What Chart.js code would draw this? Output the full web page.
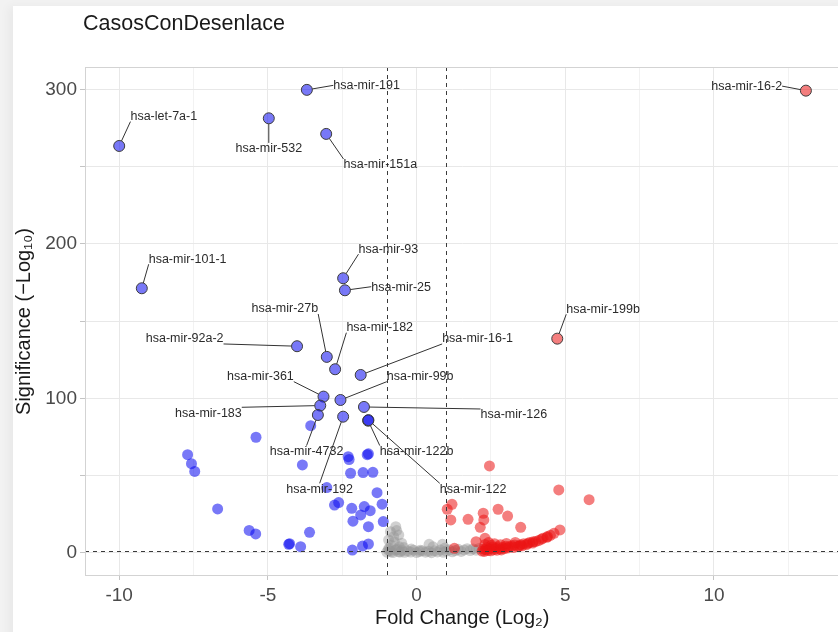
<!DOCTYPE html>
<html>
<head>
<meta charset="utf-8">
<script src="https://cdn.jsdelivr.net/npm/chart.js@4.4.1/dist/chart.umd.min.js"></script>
<style>
  html, body { margin: 0; padding: 0; background: #f2f2f2; overflow: hidden; }
  #card { position: absolute; left: 13px; top: 6px; width: 900px; height: 700px; background: #fff; box-shadow: -5px 0 9px rgba(0,0,0,0.04); }
  #volcano { position: absolute; left: 0; top: 0; }
</style>
</head>
<body>
<div id="card"></div>
<canvas id="volcano" width="846" height="632"></canvas>
<script>
const chartTitle = 'CasosConDesenlace';
const xTicks = [-10, -7.5, -5, -2.5, 0, 2.5, 5, 7.5, 10, 12.5];
const yTicks = [0, 50, 100, 150, 200, 250, 300];
const fcCutoff = [-1, 1];
const sigCutoff = [1.3];

// labelled genes: point value, label position (data units), group
const labelNames = ['hsa-let-7a-1', 'hsa-mir-532', 'hsa-mir-191', 'hsa-mir-151a', 'hsa-mir-101-1',
  'hsa-mir-93', 'hsa-mir-25', 'hsa-mir-27b', 'hsa-mir-182', 'hsa-mir-92a-2', 'hsa-mir-16-1',
  'hsa-mir-361', 'hsa-mir-99b', 'hsa-mir-183', 'hsa-mir-126', 'hsa-mir-4732', 'hsa-mir-122b',
  'hsa-mir-192', 'hsa-mir-122', 'hsa-mir-199b', 'hsa-mir-16-2'];
const labelFC = [-10.0, -4.97, -3.69, -3.04, -9.24, -2.47, -2.41, -3.02, -2.74, -4.02, -1.88,
  -3.13, -2.56, -3.24, -1.77, -3.32, -1.63, -2.47, -1.62, 4.73, 13.09];
const labelSig = [263.4, 281.3, 299.7, 271.2, 171.3, 177.8, 170.0, 126.9, 118.9, 133.8, 115.2,
  101.2, 99.0, 95.4, 94.5, 89.3, 85.6, 88.2, 86.0, 138.7, 299.2];
const labelTextFC = [-8.5, -4.97, -1.68, -1.22, -7.7, -0.95, -0.52, -4.43, -1.24, -7.8, 2.05,
  -5.25, 0.12, -7.0, 3.27, -3.7, 0.0, -3.26, 1.9, 6.27, 11.1];
const labelTextSig = [282.4, 261.5, 302.3, 251.1, 190.1, 196.6, 172.0, 157.9, 145.8, 138.5, 138.5,
  114.1, 114.1, 90.4, 89.3, 65.6, 65.6, 41.2, 41.2, 157.7, 301.8];
const labelGroup = ['down', 'down', 'down', 'down', 'down', 'down', 'down', 'down', 'down', 'down', 'down',
  'down', 'down', 'down', 'down', 'down', 'down', 'down', 'down', 'up', 'up'];

// other down-regulated (blue)
const downFC = [-3.56, -5.40, -7.70, -7.57, -7.46, -3.84, -2.30, -2.27, -1.66, -1.62, -2.22, -1.80,
  -1.47, -1.33, -6.69, -2.76, -2.62, -2.18, -1.76, -1.56, -1.16, -1.88, -2.14, -1.62, -1.12,
  -5.63, -5.41, -3.60, -4.30, -4.27, -3.90, -2.16, -1.82, -1.62, -3.02];
const downSig = [82.4, 74.9, 63.6, 57.8, 52.8, 57.0, 62.3, 60.5, 63.6, 64.2, 51.6, 52.0,
  52.2, 39.0, 28.5, 31.0, 32.6, 28.9, 30.0, 27.4, 31.6, 24.6, 20.6, 17.0, 20.3,
  14.6, 12.3, 13.4, 5.6, 6.0, 4.1, 1.9, 4.5, 5.8, 42.3];

// other up-regulated (red)
const upFC = [2.45, 4.78, 5.80, 1.03, 1.19, 1.15, 1.73, 2.24, 2.26, 2.74, 3.06, 2.14, 3.50, 2.00,
  2.30, 1.27, 4.82, 4.62, 4.38, 3.92, 3.74, 3.46,
  2.20, 2.25, 2.28, 2.32, 2.36, 2.40, 2.45, 2.50, 2.55, 2.60, 2.65, 2.70, 2.75, 2.80, 2.85, 2.90,
  2.95, 3.00, 3.05, 3.10, 3.20, 3.25, 3.30, 3.40, 3.50, 3.55, 3.60, 3.70, 3.80, 3.90, 4.00, 4.10,
  4.20, 4.25, 4.40, 4.50, 2.30, 2.42, 2.52, 2.62, 2.82, 3.02, 3.32];
const upSig = [56.3, 40.8, 34.5, 28.3, 31.5, 21.4, 21.8, 25.7, 21.4, 28.3, 23.9, 16.6, 16.6, 7.3,
  9.5, 3.0, 14.9, 12.7, 10.1, 7.3, 6.2, 4.5,
  1.2, 2.6, 1.0, 2.2, 3.4, 1.6, 2.8, 1.4, 3.8, 2.2, 3.2, 1.8, 4.0, 2.6, 2.0, 3.6,
  2.8, 4.3, 3.2, 4.0, 4.6, 3.5, 5.2, 4.2, 5.4, 4.6, 6.0, 5.4, 6.8, 6.4, 7.4, 8.0,
  8.9, 9.6, 10.6, 11.4, 5.5, 6.8, 5.0, 6.0, 5.4, 6.2, 6.8];

// not significant (grey)
const nsFC = [-0.70, -0.88, -0.60, -0.94, -0.50, -0.77, -0.67, -0.86, -0.58, -0.93, -0.43, -0.75,
  0.42, 0.87, 0.55, 0.95, -0.18, 0.12,
  -1.00, -0.90, -0.80, -0.70, -0.60, -0.50, -0.40, -0.30, -0.20, -0.10, 0.00, 0.10, 0.20, 0.30,
  0.40, 0.50, 0.60, 0.70, 0.80, 0.90, 1.00, 1.10, 1.20, 1.30, 1.40, 1.50, 1.60, 1.70, 1.80, 1.90,
  2.00, 2.10, -0.95, -0.85, -0.65, -0.55];
const nsSig = [17.0, 13.8, 11.7, 8.4, 6.3, 10.5, 14.5, 5.0, 4.0, 3.0, 3.5, 7.2,
  5.6, 5.6, 4.0, 3.2, 2.5, 1.8,
  0.5, 1.5, 0.3, 2.0, 0.8, 1.6, 0.4, 1.2, 0.6, 1.8, 0.3, 0.9, 1.5, 0.5,
  1.1, 0.2, 1.4, 0.7, 1.9, 0.4, 1.2, 2.0, 0.8, 1.6, 2.4, 1.0, 2.0, 2.8, 1.6, 2.6,
  1.8, 2.9, 1.9, 0.9, 2.4, 0.6];

function pts(xs, ys) { return xs.map((v, i) => ({ x: v, y: ys[i] })); }
const labeledDown = pts(labelFC, labelSig).filter((p, i) => labelGroup[i] === 'down');
const labeledUp = pts(labelFC, labelSig).filter((p, i) => labelGroup[i] === 'up');

Chart.defaults.font.family = '"Liberation Sans", Arial, Helvetica, sans-serif';

// pick edge/corner/middle of the label box, like ggrepel does
function anchor(p, lo, hi) {
  if (p < lo) return lo;
  if (p > hi) return hi;
  return (lo + hi) / 2;
}

const volcanoExtras = {
  id: 'volcanoExtras',
  afterDatasetsDraw(chart) {
    const { ctx, chartArea: a, scales: { x, y } } = chart;
    ctx.save();
    ctx.strokeStyle = '#3a3a3a';
    ctx.lineWidth = 1;
    ctx.setLineDash([4, 4]);
    fcCutoff.forEach(v => {
      const px = Math.round(x.getPixelForValue(v)) + 0.5;
      ctx.beginPath(); ctx.moveTo(px, a.top); ctx.lineTo(px, a.bottom); ctx.stroke();
    });
    sigCutoff.forEach(v => {
      const py = Math.round(y.getPixelForValue(v)) + 0.5;
      ctx.beginPath(); ctx.moveTo(a.left, py); ctx.lineTo(a.right, py); ctx.stroke();
    });
    ctx.setLineDash([]);

    // connectors and labels
    ctx.font = '12.5px "Liberation Sans", Arial, sans-serif';
    ctx.textAlign = 'center';
    ctx.textBaseline = 'middle';
    labelNames.forEach((name, i) => {
      const px = x.getPixelForValue(labelFC[i]);
      const py = y.getPixelForValue(labelSig[i]);
      const tx = x.getPixelForValue(labelTextFC[i]);
      const ty = y.getPixelForValue(labelTextSig[i]);
      const w = ctx.measureText(name).width;
      const nx = anchor(px, tx - w / 2, tx + w / 2);
      const ny = anchor(py, ty - 6, ty + 5);
      const d = Math.hypot(nx - px, ny - py);
      if (d > 8) {
        const sx = px + (nx - px) / d * 5.5;
        const sy = py + (ny - py) / d * 5.5;
        ctx.strokeStyle = '#333';
        ctx.beginPath(); ctx.moveTo(sx, sy); ctx.lineTo(nx, ny); ctx.stroke();
      }
    });
    ctx.fillStyle = '#2b2b2b';
    labelNames.forEach((name, i) => {
      ctx.fillText(name, x.getPixelForValue(labelTextFC[i]), y.getPixelForValue(labelTextSig[i]));
    });
    ctx.restore();
  },
  afterDraw(chart) {
    const { ctx, chartArea: a } = chart;
    ctx.save();
    ctx.strokeStyle = '#d3d3d3';
    ctx.lineWidth = 1;
    ctx.strokeRect(Math.round(a.left) + 0.5, Math.round(a.top) + 0.5, a.right - a.left + 4, a.bottom - a.top - 1);
    ctx.fillStyle = '#1a1a1a';
    ctx.font = '21.5px "Liberation Sans", Arial, sans-serif';
    ctx.textAlign = 'left';
    ctx.textBaseline = 'alphabetic';
    ctx.fillText(chartTitle, 83, 30);
    ctx.restore();
  }
};

const gridColor = ctx => (ctx.tick && ctx.tick.value % 5 === 0) ? '#e8e8e8' : '#f2f2f2';
const tickMarkColor = ctx => (ctx.tick && ctx.tick.value % 5 === 0) ? '#c4c4c4' : 'rgba(0,0,0,0)';

new Chart(document.getElementById('volcano'), {
  type: 'scatter',
  data: {
    datasets: [
      { label: 'labelled down', data: labeledDown, backgroundColor: 'rgba(10,10,240,0.55)', borderColor: '#3c3c3c', borderWidth: 1, pointRadius: 5.5 },
      { label: 'labelled up', data: labeledUp, backgroundColor: 'rgba(235,20,20,0.55)', borderColor: '#3c3c3c', borderWidth: 1, pointRadius: 5.5 },
      { label: 'down', data: pts(downFC, downSig), backgroundColor: 'rgba(10,10,240,0.55)', borderWidth: 0, pointRadius: 5.5 },
      { label: 'up', data: pts(upFC, upSig), backgroundColor: 'rgba(235,20,20,0.55)', borderWidth: 0, pointRadius: 5.5 },
      { label: 'ns', data: pts(nsFC, nsSig), backgroundColor: 'rgba(150,150,150,0.45)', borderWidth: 0, pointRadius: 5.5 }
    ]
  },
  options: {
    responsive: false,
    animation: false,
    events: [],
    layout: { padding: { top: 67, left: 0, right: 0, bottom: 0 } },
    plugins: { legend: { display: false }, tooltip: { enabled: false } },
    scales: {
      x: {
        type: 'linear',
        min: -11.15,
        max: 14.22,
        afterBuildTicks: s => { s.ticks = xTicks.map(v => ({ value: v })); },
        afterFit: s => { s.height = 56; },
        grid: { color: gridColor, tickColor: tickMarkColor, tickLength: 4 },
        border: { display: false },
        ticks: { color: '#4a4a4a', font: { size: 19 }, padding: 4, maxRotation: 0,
          callback: v => (v % 5 === 0 ? String(v) : '') },
        title: { display: true, text: 'Fold Change (Log₂)', color: '#1a1a1a', font: { size: 20 }, padding: { top: 0, bottom: 2 } }
      },
      y: {
        type: 'linear',
        min: -14.9,
        max: 314.5,
        afterBuildTicks: s => { s.ticks = yTicks.map(v => ({ value: v })); },
        afterFit: s => { s.width = 85; },
        grid: { color: gridColor, tickColor: tickMarkColor, tickLength: 5 },
        border: { display: false },
        ticks: { color: '#4a4a4a', font: { size: 19 }, padding: 3,
          callback: v => (v % 100 === 0 ? String(v) : '') },
        title: { display: true, text: 'Significance (−Log₁₀)', color: '#1a1a1a', font: { size: 20 }, padding: { top: 12, bottom: 0 } }
      }
    }
  },
  plugins: [volcanoExtras]
});
</script>
</body>
</html>
